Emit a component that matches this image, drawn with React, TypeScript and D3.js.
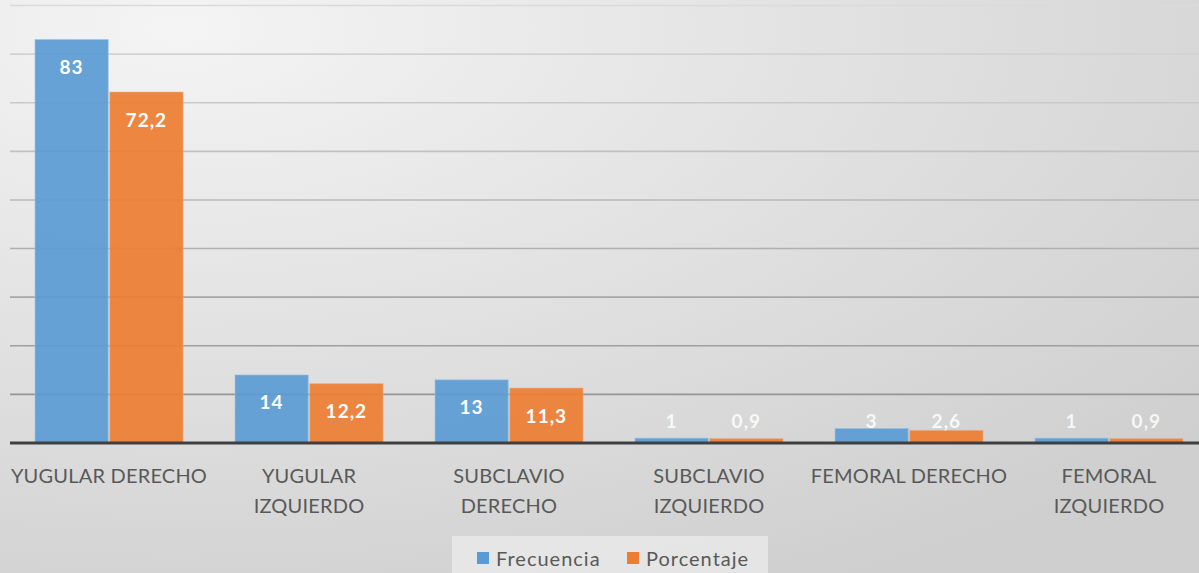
import React from "react";
import * as d3 from "d3";

const categories: string[][] = [
  ["YUGULAR DERECHO"],
  ["YUGULAR", "IZQUIERDO"],
  ["SUBCLAVIO", "DERECHO"],
  ["SUBCLAVIO", "IZQUIERDO"],
  ["FEMORAL DERECHO"],
  ["FEMORAL", "IZQUIERDO"],
];
const frecuencia = [83, 14, 13, 1, 3, 1];
const porcentaje = [72.2, 12.2, 11.3, 0.9, 2.6, 0.9];
const seriesNames = ["Frecuencia", "Porcentaje"];
const seriesColors = ["#5b9bd5", "#ed7d31"];
const yTicks = [0, 10, 20, 30, 40, 50, 60, 70, 80, 90];

const W = 1199;
const H = 573;
const FONT = "Lato, 'Open Sans', sans-serif";

const fmt = (v: number) => String(v).replace(".", ",");

export default function App() {
  const y = d3.scaleLinear().domain([0, 90]).range([443, 5.5]);
  const x0 = d3
    .scaleBand<number>()
    .domain(d3.range(categories.length))
    .range([9, 1209])
    .paddingInner(0.26)
    .paddingOuter(0.13);
  const x1 = d3
    .scaleBand<number>()
    .domain([0, 1])
    .range([0, x0.bandwidth()])
    .paddingInner(0.02);
  const series = [frecuencia, porcentaje];
  const gridColor = d3.interpolateRgb("#dadada", "#8e8e8e");
  const baseY = y(0);

  return (
    <svg
      width={W}
      height={H}
      style={{ position: "absolute", left: 0, top: 0, display: "block" }}
    >
      <defs>
        <radialGradient id="bg" cx="0.15" cy="0.05" r="1.1" gradientUnits="objectBoundingBox">
          <stop offset="0" stopColor="#f4f4f4" />
          <stop offset="1" stopColor="#cfcfcf" />
        </radialGradient>
      </defs>
      <rect x={0} y={0} width={W} height={H} fill="url(#bg)" />

      {yTicks
        .filter((t) => t > 0)
        .map((t) => (
          <line
            key={t}
            x1={10}
            x2={W}
            y1={y(t)}
            y2={y(t)}
            stroke={gridColor(1 - t / 90)}
            strokeWidth={1.6}
          />
        ))}

      {categories.map((_, i) => (
        <g key={i} transform={`translate(${x0(i)},0)`}>
          {series.map((s, k) => {
            const v = s[i];
            const top = y(v);
            const bx = x1(k)!;
            const bw = x1.bandwidth();
            const ly = Math.min(top + 27, baseY - 23);
            return (
              <g key={k}>
                <rect
                  x={bx}
                  y={top}
                  width={bw}
                  height={baseY - top}
                  fill={seriesColors[k]}
                  fillOpacity={0.92}
                  stroke={k === 0 ? "#9cc3e8" : "#f3a877"}
                  strokeOpacity={0.6}
                  strokeWidth={1}
                />
                <text
                  x={bx + bw / 2}
                  y={ly}
                  textAnchor="middle"
                  dominantBaseline="central"
                  fill="#ffffff"
                  fillOpacity={v < 5 ? 0.85 : 1}
                  fontFamily={FONT}
                  fontWeight={700}
                  fontSize={19}
                  letterSpacing={1}
                >
                  {fmt(v)}
                </text>
              </g>
            );
          })}
        </g>
      ))}

      <line x1={10} x2={W} y1={baseY} y2={baseY} stroke="#3f3f3f" strokeWidth={3} />

      {categories.map((lines, i) => (
        <text
          key={i}
          x={x0(i)! + x0.bandwidth() / 2}
          y={483}
          textAnchor="middle"
          fill="#595959"
          fontFamily={FONT}
          fontSize={20}
          letterSpacing={0.2}
        >
          {lines.map((l, j) => (
            <tspan key={j} x={x0(i)! + x0.bandwidth() / 2} dy={j === 0 ? 0 : 30}>
              {l}
            </tspan>
          ))}
        </text>
      ))}

      <rect x={452} y={536} width={316} height={40} fill="#e9e9e9" fillOpacity={0.85} />
      {seriesNames.map((name, k) => {
        const lx = k === 0 ? 477 : 627;
        return (
          <g key={name}>
            <rect x={lx} y={552} width={12} height={12} fill={seriesColors[k]} />
            <text
              x={lx + 19}
              y={558}
              dominantBaseline="central"
              fill="#595959"
              fontFamily={FONT}
              fontSize={20}
              letterSpacing={1}
            >
              {name}
            </text>
          </g>
        );
      })}
    </svg>
  );
}
